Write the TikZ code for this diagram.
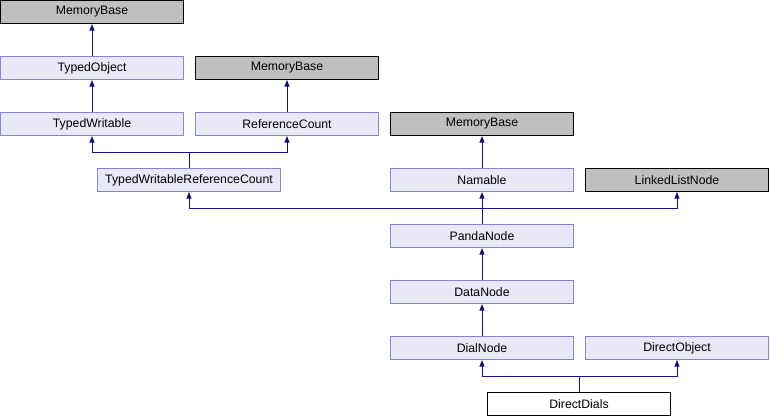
\documentclass[tikz,border=0pt]{standalone}
\usepackage{fontspec}
\setmainfont{Liberation Sans}
\usetikzlibrary{arrows.meta}
\definecolor{nodefill}{RGB}{232,232,248}
\definecolor{nodeline}{RGB}{132,132,224}
\definecolor{grayfill}{RGB}{191,191,191}
\definecolor{edgecol}{RGB}{16,16,144}
\tikzset{
  cls/.style={draw=nodeline, fill=nodefill, line width=0.75pt, minimum width=137.25pt, minimum height=17.25pt, inner sep=0pt, font=\fontsize{9.2pt}{11pt}\selectfont},
  ext/.style={cls, draw=black, fill=grayfill},
  main/.style={cls, draw=black, fill=white},
  inh/.style={draw=edgecol, line width=0.75pt, {Triangle[width=3.8pt,length=5pt]}-},
}
\begin{document}
\begin{tikzpicture}[x=0.75pt,y=-0.75pt]
\useasboundingbox (0,0) rectangle (770,416);
\node[ext] (mb1) at (92,12) {MemoryBase};
\node[cls] (to) at (92,68) {TypedObject};
\node[ext] (mb2) at (287,68) {MemoryBase};
\node[cls] (tw) at (92,124) {TypedWritable};
\node[cls] (rc) at (287,124) {ReferenceCount};
\node[ext] (mb3) at (482,124) {MemoryBase};
\node[cls] (twrc) at (189,180) {TypedWritableReferenceCount};
\node[cls] (nam) at (482,180) {Namable};
\node[ext] (lln) at (677,180) {LinkedListNode};
\node[cls] (pn) at (482,236) {PandaNode};
\node[cls] (dn) at (482,292) {DataNode};
\node[cls] (dial) at (482,348) {DialNode};
\node[cls] (dobj) at (677,348) {DirectObject};
\node[main] (dd) at (579,404) {DirectDials};
\coordinate (j1) at (0,152.5);
\coordinate (j2) at (0,208.5);
\coordinate (j3) at (0,376.5);
\draw[inh] (mb1.south) -- (to.north);
\draw[inh] (to.south) -- (tw.north);
\draw[inh] (mb2.south) -- (rc.north);
\draw[inh] (mb3.south) -- (nam.north);
\draw[inh] (pn.south) -- (dn.north);
\draw[inh] (dn.south) -- (dial.north);
\draw[inh] (tw.south) -- (tw.south |- j1) -| (twrc.north);
\draw[inh] (rc.south) -- (rc.south |- j1) -| (twrc.north);
\draw[inh] (twrc.south) -- (twrc.south |- j2) -| (pn.north);
\draw[inh] (nam.south) -- (pn.north);
\draw[inh] (lln.south) -- (lln.south |- j2) -| (pn.north);
\draw[inh] (dial.south) -- (dial.south |- j3) -| (dd.north);
\draw[inh] (dobj.south) -- (dobj.south |- j3) -| (dd.north);
\end{tikzpicture}
\end{document}
